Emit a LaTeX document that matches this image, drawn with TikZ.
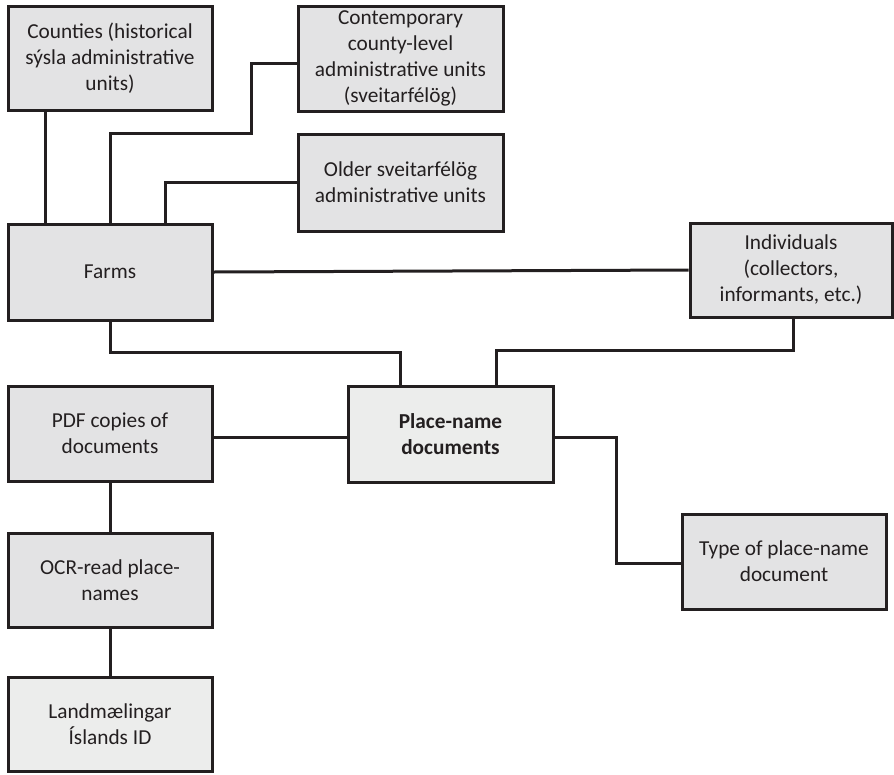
\documentclass[tikz,border=0pt]{standalone}
\usepackage{fontspec}
\setmainfont{Carlito}
\definecolor{ink}{HTML}{231F20}
\definecolor{txt}{HTML}{231F20}
\definecolor{boxfill}{HTML}{E3E3E4}
\definecolor{lightfill}{HTML}{ECEDEC}
\begin{document}
\begin{tikzpicture}[x=1pt,y=-1pt,
  entity/.style={draw=ink, line width=3pt, fill=boxfill, text=txt,
    align=center, inner sep=0pt, font=\fontsize{21.3}{26}\selectfont},
  lightentity/.style={entity, fill=lightfill},
  link/.style={draw=ink, line width=3pt}]
\useasboundingbox (0,0) rectangle (894,774);

% entities
\node[entity, minimum width=204pt, minimum height=104pt] (counties) at (110,58)
  {Counties (historical\\sýsla administrative\\units)};
\node[entity, minimum width=205pt, minimum height=105pt] (contemporary) at (400.5,58.5)
  {Contemporary\\county-level\\administrative units\\(sveitarfélög)};
\node[entity, minimum width=205pt, minimum height=97pt] (older) at (400.5,182.5)
  {Older sveitarfélög\\administrative units};
\node[entity, minimum width=204pt, minimum height=96pt] (farms) at (110,272)
  {Farms};
\node[entity, minimum width=202pt, minimum height=94pt] (individuals) at (791,270)
  {Individuals\\(collectors,\\informants, etc.)};
\node[entity, minimum width=204pt, minimum height=95pt] (pdf) at (110,433.5)
  {PDF copies of\\documents};
\node[lightentity, minimum width=205pt, minimum height=96pt, font=\fontsize{21.3}{26}\selectfont\bfseries] (place) at (450.5,434)
  {Place-name\\documents};
\node[entity, minimum width=204pt, minimum height=95pt] (type) at (784,561.5)
  {Type of place-name\\document};
\node[entity, minimum width=204pt, minimum height=94pt] (ocr) at (110,580)
  {OCR-read place-\\names};
\node[lightentity, minimum width=204pt, minimum height=94pt] (land) at (110,724.5)
  {Landmælingar\\Íslands ID};

% connectors
\draw[link] ([xshift=-65pt]counties.south) -- ([xshift=-65pt]farms.north);
\draw[link] (farms.north) -- ++(0,-89) -- ++(141,0) |- ([yshift=-4.5pt]contemporary.west);
\draw[link] ([xshift=55pt]farms.north) |- (older.west);
\draw[link] (farms.east) -- (individuals.west);
\draw[link] (farms.south) -- ++(0,31) -| ([xshift=-50.5pt]place.north);
\draw[link] ([xshift=2pt]individuals.south) -- ++(0,32) -| ([xshift=45.5pt]place.north);
\draw[link] ([yshift=-4pt]pdf.east) -- ([yshift=-4pt]pdf.east -| place.west);
\draw[link] ([yshift=-3pt]place.east) -- ++(62,0) |- ([yshift=-1.5pt]type.west);
\draw[link] (pdf.south) -- (ocr.north);
\draw[link] (ocr.south) -- (land.north);
\end{tikzpicture}
\end{document}
